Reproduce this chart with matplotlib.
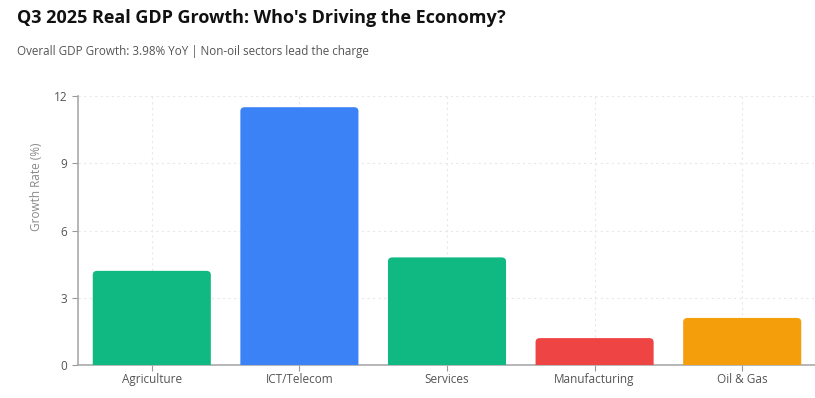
import matplotlib.pyplot as plt
from matplotlib.path import Path
from matplotlib.patches import PathPatch

plt.rcParams['font.family'] = ['Open Sans', 'DejaVu Sans']

sectors = ["Agriculture", "ICT/Telecom", "Services", "Manufacturing", "Oil & Gas"]
growth = [4.2, 11.5, 4.8, 1.2, 2.1]
colors = ["#10b981", "#3b82f6", "#10b981", "#ef4444", "#f59e0b"]
yticks = [0, 3, 6, 9, 12]


def rounded_top(x0, w, h, rx, ry):
    # bar outline with rounded top corners
    verts = [(x0, 0), (x0, h - ry), (x0, h), (x0 + rx, h),
             (x0 + w - rx, h), (x0 + w, h), (x0 + w, h - ry),
             (x0 + w, 0), (x0, 0)]
    codes = [Path.MOVETO, Path.LINETO, Path.CURVE3, Path.CURVE3,
             Path.LINETO, Path.CURVE3, Path.CURVE3, Path.LINETO, Path.CLOSEPOLY]
    return Path(verts, codes)


fig = plt.figure(figsize=(8.15, 3.98), dpi=100)
ax = fig.add_axes([78 / 815, 33 / 398, 738 / 815, 269 / 398])

bars = ax.bar(range(len(sectors)), growth, width=0.8, color=colors)
for b in bars:
    b.set_visible(False)
    p = rounded_top(b.get_x(), b.get_width(), b.get_height(), 0.03, 0.18)
    ax.add_patch(PathPatch(p, facecolor=b.get_facecolor(), edgecolor='none', zorder=3))

ax.set_xlim(-0.5, len(sectors) - 0.5)
ax.set_ylim(0, 12)
ax.set_yticks(yticks)
ax.set_xticks(range(len(sectors)))
ax.set_xticklabels(sectors)
ax.tick_params(colors='#999999', labelcolor='#555555', labelsize=8.5, length=4)
ax.tick_params(axis='x', pad=2)
ax.grid(True, color='#e8e8e8', linestyle=(0, (2, 3)), linewidth=0.8, zorder=0)
ax.set_axisbelow(True)
for s in ['top', 'right']:
    ax.spines[s].set_visible(False)
for s in ['left', 'bottom']:
    ax.spines[s].set_color('#aaaaaa')
    ax.spines[s].set_linewidth(1.2)

fig.text(37 / 815, 1 - 187 / 398, "Growth Rate (%)", rotation=90, ha='center', va='center',
         color='#888888', fontsize=8.5)

fig.text(17 / 815, 1 - 18 / 398, "Q3 2025 Real GDP Growth: Who's Driving the Economy?",
         fontsize=13, fontweight='bold', color='#111111', va='center')
fig.text(17 / 815, 1 - 51 / 398, "Overall GDP Growth: 3.98% YoY | Non-oil sectors lead the charge",
         fontsize=8.4, color='#555555', va='center')

fig.savefig("out.png", dpi=100)
